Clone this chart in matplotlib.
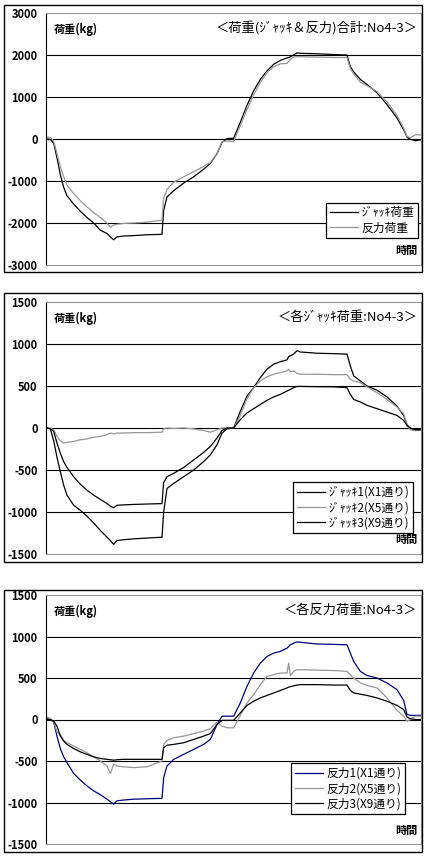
import matplotlib
matplotlib.use("Agg")
import matplotlib.pyplot as plt
from matplotlib.patches import Rectangle

plt.rcParams['font.family'] = ['Noto Sans CJK JP', 'DejaVu Sans']

# time axis (arbitrary units, no tick labels in the original)
T = [0, 1, 2, 3, 4, 5, 6, 8, 10, 12, 14, 16, 18, 19, 20, 21, 23, 26, 30, 34.5,
     35, 36, 38, 41, 44, 47, 49, 51, 52.5, 54, 56, 58, 60, 62, 64, 66, 68, 70, 72, 72.5,
     73, 74, 75, 76, 81, 86, 90, 91, 92, 94, 96, 99, 102, 105, 107, 108, 109, 110.5, 112.2]

# panel 1: total loads
jack_total = [0, -10, -100, -450, -850, -1150, -1350, -1550, -1720, -1870, -2000, -2170, -2250, -2330, -2400, -2330, -2310, -2300, -2280, -2270,
              -1700, -1380, -1230, -1050, -900, -720, -580, -350, -80, 10, 20, 400, 800, 1150, 1420, 1620, 1780, 1870, 1930, 1940,
              1960, 2000, 2050, 2040, 2030, 2010, 2000, 1720, 1600, 1420, 1300, 1100, 820, 500, 220, 50, -10, -40, -20]
react_total = [40, 40, -50, -350, -650, -900, -1100, -1300, -1470, -1620, -1750, -1870, -2000, -2100, -2050, -2030, -2010, -2000, -1980, -1930,
               -1400, -1200, -1030, -900, -780, -650, -560, -350, -60, -50, -60, 320, 700, 1050, 1350, 1580, 1720, 1790, 1800, 1850,
               1900, 1950, 1960, 1960, 1950, 1940, 1940, 1680, 1550, 1350, 1270, 1130, 880, 560, 260, 60, 30, 100, 100]

# panel 2: each jack
jack1 = [0, -10, -150, -350, -520, -680, -800, -920, -980, -1050, -1130, -1220, -1300, -1340, -1385, -1340, -1330, -1320, -1310, -1300,
         -1000, -720, -660, -580, -500, -400, -320, -200, -60, -10, 0, 200, 380, 480, 600, 700, 760, 790, 810, 850,
         860, 880, 920, 905, 890, 885, 880, 740, 620, 560, 500, 450, 370, 260, 150, 40, -10, -30, -20]
jack2 = [0, 0, -20, -100, -150, -180, -170, -160, -140, -130, -110, -100, -80, -60, -70, -60, -60, -55, -55, -50,
         -10, 0, -5, 0, -10, -30, -50, -20, 0, 0, 0, 150, 350, 480, 560, 610, 640, 660, 680, 700,
         670, 680, 650, 640, 640, 635, 635, 580, 560, 540, 490, 420, 340, 250, 170, 30, -20, -30, -20]
jack3 = [0, -10, -40, -180, -300, -400, -470, -580, -670, -740, -800, -850, -900, -930, -950, -920, -915, -910, -905, -900,
         -650, -580, -540, -470, -380, -290, -220, -120, -30, 0, 0, 100, 180, 230, 280, 330, 370, 400, 440, 450,
         460, 480, 495, 495, 492, 490, 480, 400, 340, 310, 270, 230, 190, 150, 90, 30, 0, -20, -20]

# panel 3: each reaction
react1 = [10, 0, -30, -200, -350, -450, -520, -650, -730, -800, -860, -905, -960, -990, -1020, -980, -970, -960, -955, -950,
          -700, -560, -480, -420, -360, -300, -240, -60, 40, 40, 40, 200, 400, 560, 680, 760, 800, 820, 860, 880,
          900, 920, 935, 930, 910, 905, 900, 800, 700, 580, 530, 500, 440, 360, 230, 60, 50, 50, 50]
react2 = [30, 10, -30, -150, -180, -250, -280, -320, -360, -400, -450, -500, -560, -650, -540, -560, -570, -580, -570, -500,
          -300, -250, -220, -200, -170, -140, -110, -30, -80, -100, -100, 50, 200, 300, 420, 520, 540, 560, 560, 680,
          530, 580, 600, 600, 595, 590, 580, 540, 500, 440, 410, 380, 260, 110, 40, -20, 0, 40, 40]
react3 = [0, 0, -20, -80, -200, -260, -300, -350, -390, -420, -450, -470, -480, -485, -490, -485, -480, -480, -480, -480,
          -340, -310, -300, -280, -240, -200, -170, -60, -10, -10, -10, 80, 170, 220, 260, 290, 320, 350, 380, 390,
          395, 405, 415, 420, 420, 415, 415, 350, 320, 305, 290, 260, 220, 170, 120, 30, 10, 0, 0]

W, H = 427, 856
GREY = '#969696'
NAVY = '#000080'


def px_rect(x0, y0, x1, y1):
    return [x0 / W, 1 - y1 / H, (x1 - x0) / W, (y1 - y0) / H]


def make_panel(fig, frame, plot, ylim, step, title, series, leg_corner):
    # outer chart frame
    fig.patches.append(Rectangle((frame[0] / W, 1 - frame[3] / H), (frame[2] - frame[0]) / W,
                                 (frame[3] - frame[1]) / H, transform=fig.transFigure,
                                 fill=False, edgecolor='black', linewidth=1.0))
    ax = fig.add_axes(px_rect(*plot))
    ticks = list(range(ylim[0], ylim[1] + 1, step))
    for v in ticks[1:-1]:
        ax.axhline(v, color='black', linewidth=0.8, zorder=1)
    for y, label, color in series:
        ax.plot(T, y, color=color, linewidth=0.9, label=label, zorder=2)
    ax.set_xlim(-0.3, 112.2)
    ax.set_ylim(*ylim)
    ax.set_yticks(ticks)
    ax.set_yticklabels([str(v) for v in ticks], fontweight='bold', fontsize=8)
    ax.set_xticks([])
    ax.tick_params(axis='y', length=0, pad=6)
    ax.spines['left'].set_color('black')
    for s in ('top', 'bottom', 'right'):
        ax.spines[s].set_color(GREY)
    ax.text(0.02, 0.96, '荷重(kg)', transform=ax.transAxes, ha='left', va='top',
            fontsize=8, fontweight='bold')
    ax.text(0.99, 0.965, title, transform=ax.transAxes, ha='right', va='top', fontsize=9.5)
    ax.text(0.99, 0.03, '時間', transform=ax.transAxes, ha='right', va='bottom',
            fontsize=8, fontweight='bold')
    leg = ax.legend(loc='lower right', bbox_to_anchor=(leg_corner[0] / W, 1 - leg_corner[1] / H),
                    bbox_transform=fig.transFigure, borderaxespad=0, fancybox=False,
                    framealpha=1, edgecolor='black', fontsize=8.5, handlelength=2.4,
                    handletextpad=0.3, labelspacing=0.2, borderpad=0.3)
    leg.get_frame().set_linewidth(0.9)
    return ax


fig = plt.figure(figsize=(W / 100, H / 100), dpi=100)

make_panel(fig, (4, 5, 422, 272), (46, 13, 421, 265), (-3000, 3000), 1000,
           '＜荷重(ｼﾞｬｯｷ＆反力)合計:No4-3＞',
           [(jack_total, 'ｼﾞｬｯｷ荷重', 'black'), (react_total, '反力荷重', GREY)],
           (418, 238))

make_panel(fig, (4, 293, 422, 562), (46, 302, 421, 554), (-1500, 1500), 500,
           '＜各ｼﾞｬｯｷ荷重:No4-3＞',
           [(jack1, 'ｼﾞｬｯｷ1(X1通り)', 'black'), (jack2, 'ｼﾞｬｯｷ2(X5通り)', GREY),
            (jack3, 'ｼﾞｬｯｷ3(X9通り)', 'black')],
           (413, 533))

make_panel(fig, (4, 590, 422, 852), (46, 595, 421, 844), (-1500, 1500), 500,
           '＜各反力荷重:No4-3＞',
           [(react1, '反力1(X1通り)', NAVY), (react2, '反力2(X5通り)', GREY),
            (react3, '反力3(X9通り)', 'black')],
           (405, 814))

fig.savefig('out.png', dpi=100)
